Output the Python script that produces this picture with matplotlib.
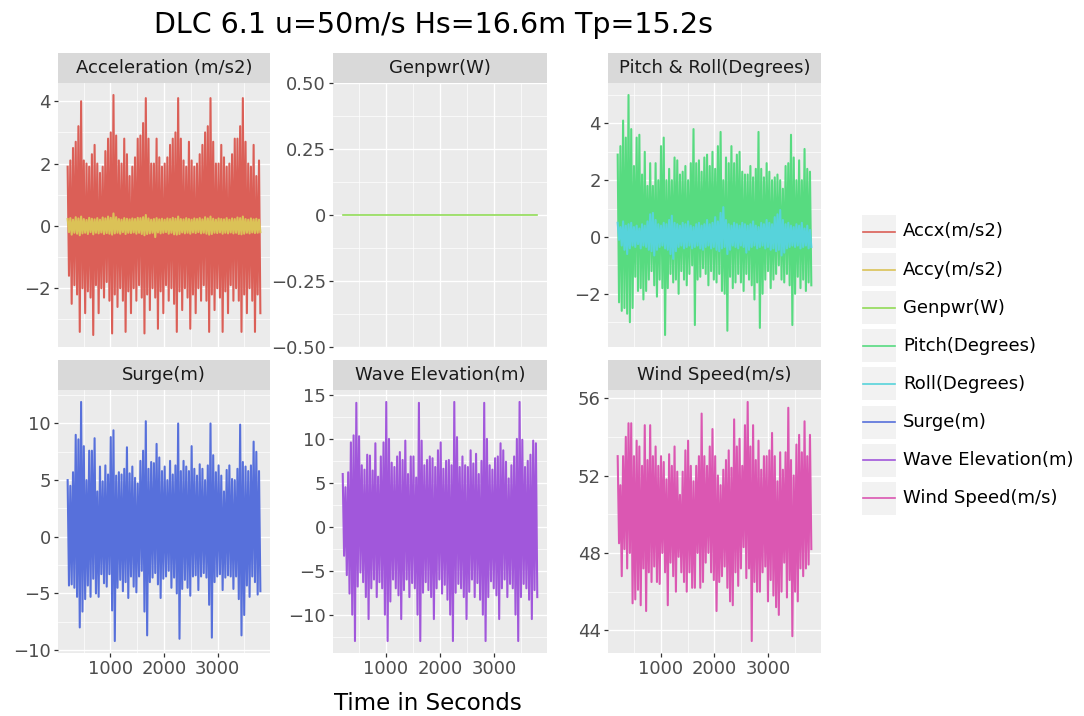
import numpy as np
import matplotlib

matplotlib.use("Agg")
import matplotlib.pyplot as plt
from matplotlib.patches import Rectangle
from matplotlib.ticker import FixedFormatter, FixedLocator

# Record runs 200 s .. 3800 s; each series is stored as the local peak and
# local trough of every 50 s window, interleaved on a 25 s grid.
t_start = 200
t_end = 3800

accx_hi = [1.9, 2.1, 2.5, 2.7, 3.2, 4.0, 2.1, 2.0, 1.9, 2.3, 2.6, 2.0,
           1.7, 1.9, 2.4, 2.8, 3.0, 4.2, 2.9, 2.1, 2.0, 2.8, 2.3, 1.6,
           1.9, 2.2, 2.8, 2.9, 3.3, 4.1, 2.8, 2.0, 2.0, 2.8, 2.2, 1.9,
           2.0, 2.2, 2.6, 2.8, 3.0, 4.1, 2.8, 2.1, 1.9, 2.7, 2.1, 1.9,
           2.0, 2.3, 2.6, 3.0, 3.2, 4.1, 2.7, 2.0, 2.0, 2.6, 2.2, 1.9,
           2.0, 2.3, 2.8, 2.8, 3.2, 4.1, 2.7, 2.0, 1.9, 2.6, 1.6, 2.1]
accx_lo = [-1.6, -2.5, -1.9, -2.2, -3.4, -2.0, -2.8, -2.1, -2.3, -3.5, -1.9, -2.8,
           -2.0, -2.3, -1.8, -2.4, -3.45, -2.2, -2.6, -2.0, -2.4, -3.4, -2.1, -2.8,
           -2.0, -2.4, -1.9, -2.3, -3.45, -2.2, -2.7, -2.0, -2.3, -3.3, -2.1, -2.8,
           -1.9, -2.4, -2.0, -2.5, -3.4, -2.1, -2.7, -2.0, -2.3, -3.3, -2.2, -2.8,
           -2.0, -2.4, -1.9, -2.4, -3.4, -2.2, -2.7, -2.0, -2.3, -3.4, -2.1, -2.8,
           -1.9, -2.4, -2.0, -2.4, -3.4, -2.2, -2.8, -2.0, -2.4, -3.4, -2.2, -2.8]

accy_hi = [0.22, 0.25, 0.20, 0.28, 0.24, 0.30, 0.22, 0.19, 0.26, 0.23, 0.21, 0.25,
           0.20, 0.27, 0.24, 0.30, 0.26, 0.40, 0.28, 0.22, 0.20, 0.25, 0.23, 0.21,
           0.24, 0.22, 0.26, 0.25, 0.28, 0.35, 0.24, 0.20, 0.22, 0.25, 0.21, 0.23,
           0.20, 0.24, 0.22, 0.26, 0.23, 0.30, 0.22, 0.21, 0.25, 0.22, 0.20, 0.24,
           0.22, 0.25, 0.21, 0.28, 0.24, 0.30, 0.23, 0.20, 0.24, 0.22, 0.21, 0.25,
           0.20, 0.24, 0.22, 0.27, 0.25, 0.30, 0.22, 0.20, 0.24, 0.21, 0.23, 0.20]
accy_lo = [-0.20, -0.28, -0.22, -0.25, -0.30, -0.24, -0.22, -0.26, -0.20, -0.27, -0.22, -0.24,
           -0.21, -0.26, -0.23, -0.25, -0.28, -0.24, -0.22, -0.25, -0.20, -0.26, -0.22, -0.23,
           -0.21, -0.25, -0.22, -0.26, -0.30, -0.26, -0.24, -0.22, -0.36, -0.21, -0.24, -0.22,
           -0.20, -0.25, -0.22, -0.27, -0.28, -0.26, -0.21, -0.24, -0.22, -0.25, -0.21, -0.23,
           -0.20, -0.24, -0.22, -0.25, -0.28, -0.26, -0.22, -0.23, -0.21, -0.25, -0.22, -0.24,
           -0.21, -0.24, -0.22, -0.26, -0.27, -0.25, -0.22, -0.24, -0.21, -0.23, -0.22, -0.20]

genpwr_hi = [0.0] * 72
genpwr_lo = [0.0] * 72

pitch_hi = [2.9, 3.2, 4.1, 3.5, 5.0, 3.8, 2.5, 3.5, 3.6, 2.2, 3.0, 1.8,
            2.6, 1.8, 2.6, 2.0, 3.2, 3.5, 2.0, 2.4, 2.0, 2.8, 2.7, 2.2,
            2.3, 2.5, 2.0, 2.6, 3.8, 2.6, 2.7, 2.3, 2.8, 2.9, 2.5, 3.0,
            2.4, 3.2, 3.7, 2.0, 2.8, 2.6, 3.2, 2.6, 2.9, 3.0, 2.3, 2.2,
            2.2, 2.5, 2.1, 2.4, 3.7, 2.4, 2.1, 2.6, 2.3, 2.0, 2.1, 2.2,
            2.0, 1.7, 2.5, 2.6, 3.6, 2.8, 2.0, 2.7, 2.0, 3.1, 2.4, 2.3]
pitch_lo = [-2.3, -2.6, -2.5, -2.7, -3.0, -2.5, -1.4, -1.9, -1.8, -2.2, -1.9, -1.5,
            -1.2, -1.7, -2.1, -1.5, -1.8, -3.45, -1.8, -1.3, -1.6, -1.5, -2.0, -1.2,
            -1.5, -1.7, -1.3, -1.0, -3.1, -1.5, -1.4, -1.1, -1.3, -1.7, -1.2, -1.5,
            -1.6, -1.3, -1.9, -2.0, -3.3, -1.4, -1.8, -1.6, -1.3, -1.6, -1.9, -1.3,
            -1.5, -1.7, -2.2, -1.6, -3.2, -2.0, -1.5, -1.2, -1.8, -1.5, -1.3, -1.0,
            -1.5, -1.6, -1.3, -1.7, -3.1, -2.0, -1.4, -1.8, -1.5, -1.9, -1.6, -1.7]

roll_hi = [0.50, 0.35, 0.55, 0.40, 0.45, 0.50, 0.35, 0.40, 0.30, 0.45, 0.40, 0.55,
           0.80, 0.85, 0.60, 0.45, 0.40, 0.50, 0.45, 0.60, 0.75, 0.50, 0.45, 0.40,
           0.50, 0.45, 0.55, 0.40, 0.35, 0.45, 0.50, 0.40, 0.45, 0.60, 0.45, 0.50,
           0.70, 0.55, 0.85, 1.05, 0.60, 0.45, 0.40, 0.50, 0.45, 0.40, 0.50, 0.45,
           0.40, 0.45, 0.55, 0.40, 0.35, 0.50, 0.45, 0.60, 0.50, 0.45, 0.70, 0.80,
           0.95, 0.60, 0.45, 0.50, 0.40, 0.35, 0.45, 0.40, 0.50, 0.30, 0.40, 0.25]
roll_lo = [-0.10, -0.30, -0.45, -0.60, -0.40, -0.30, -0.35, -0.25, -0.40, -0.30, -0.35, -0.45,
           -0.50, -0.65, -0.45, -0.35, -0.30, -0.40, -0.45, -0.60, -0.77, -0.50, -0.35, -0.30,
           -0.40, -0.35, -0.30, -0.40, -0.35, -0.30, -0.40, -0.45, -0.35, -0.30, -0.40, -0.35,
           -0.45, -0.50, -0.40, -0.35, -0.60, -0.45, -0.30, -0.35, -0.40, -0.30, -0.35, -0.55,
           -0.45, -0.35, -0.30, -0.40, -0.35, -0.30, -0.40, -0.35, -0.45, -0.40, -0.50, -0.45,
           -0.65, -0.55, -0.40, -0.35, -0.30, -0.35, -0.30, -0.40, -0.35, -0.30, -0.40, -0.35]

surge_hi = [5.0, 4.5, 5.7, 9.0, 8.6, 11.9, 8.0, 5.0, 7.6, 7.6, 8.7, 4.0,
            6.2, 4.9, 6.3, 5.5, 8.8, 9.4, 5.4, 5.7, 5.5, 6.0, 7.9, 5.6,
            6.2, 5.2, 4.7, 6.7, 7.6, 10.2, 6.0, 6.6, 6.5, 8.2, 7.0, 5.8,
            6.2, 5.0, 6.7, 5.5, 6.3, 10.0, 5.8, 6.7, 6.2, 5.8, 8.0, 6.0,
            5.4, 6.4, 6.0, 5.0, 6.3, 10.0, 7.2, 5.7, 6.3, 5.4, 4.0, 5.9,
            6.3, 5.1, 5.0, 6.0, 9.9, 6.6, 6.2, 5.8, 6.3, 8.4, 7.5, 5.8]
surge_lo = [-4.3, -4.2, -4.5, -5.3, -8.0, -6.6, -5.5, -4.3, -5.3, -3.7, -5.0, -5.3,
            -3.3, -4.1, -4.4, -3.3, -6.5, -9.2, -4.5, -3.8, -4.8, -4.0, -5.4, -3.5,
            -4.4, -4.9, -3.5, -3.0, -6.6, -8.7, -4.0, -3.6, -3.2, -4.2, -5.4, -3.7,
            -3.5, -3.0, -4.5, -3.6, -5.0, -9.0, -4.6, -3.8, -4.5, -5.2, -3.5, -3.4,
            -4.7, -3.5, -3.2, -3.6, -6.0, -8.9, -4.0, -3.5, -3.3, -4.7, -3.6, -3.4,
            -3.5, -4.6, -3.5, -5.5, -8.7, -6.9, -4.3, -5.3, -3.5, -4.0, -5.1, -4.8]

wave_hi = [6.0, 4.5, 6.2, 9.6, 10.4, 14.1, 10.3, 7.0, 6.5, 8.2, 8.1, 6.4,
           9.5, 5.7, 8.0, 9.6, 14.2, 10.0, 7.3, 6.8, 8.0, 8.5, 7.6, 9.8,
           6.0, 8.0, 8.0, 5.6, 14.1, 9.8, 7.0, 7.6, 8.0, 7.8, 6.8, 8.7,
           9.6, 6.6, 7.5, 7.6, 7.0, 14.2, 10.2, 6.8, 8.0, 7.0, 6.8, 8.7,
           7.2, 8.3, 6.0, 7.5, 14.1, 10.0, 7.0, 6.5, 7.8, 8.0, 9.5, 8.7,
           7.4, 5.5, 7.0, 8.0, 10.0, 14.2, 9.9, 6.8, 7.5, 8.2, 9.8, 9.5]
wave_lo = [-3.3, -5.5, -7.6, -10.0, -13.0, -6.8, -5.2, -6.3, -8.0, -10.5, -7.0, -6.0,
           -8.0, -6.3, -7.0, -10.0, -13.0, -8.5, -6.0, -7.0, -7.8, -10.5, -7.2, -6.0,
           -8.0, -6.4, -7.0, -10.0, -13.0, -7.5, -6.3, -7.2, -8.0, -10.5, -7.0, -6.0,
           -7.6, -6.6, -8.3, -10.0, -13.0, -7.5, -6.5, -7.0, -8.0, -10.5, -7.4, -6.0,
           -8.0, -6.4, -8.3, -10.0, -13.0, -8.0, -6.2, -7.0, -7.8, -10.5, -7.0, -6.0,
           -8.0, -6.5, -7.0, -10.0, -13.0, -8.0, -6.5, -7.0, -8.3, -10.5, -7.2, -8.0]

wind_hi = [53.0, 51.5, 53.0, 54.0, 54.7, 54.7, 53.0, 53.8, 53.5, 52.5, 54.6, 52.8,
           54.6, 53.0, 53.5, 52.5, 53.0, 52.7, 51.8, 53.1, 52.5, 53.5, 52.2, 51.0,
           52.2, 53.3, 53.8, 52.5, 51.7, 52.5, 53.0, 55.2, 53.0, 52.5, 53.5, 54.4,
           53.0, 52.0, 51.5, 52.3, 52.8, 53.3, 52.4, 54.9, 53.5, 53.9, 52.5, 54.6,
           55.8, 53.5, 54.6, 52.8, 53.8, 52.3, 53.0, 53.0, 53.3, 54.2, 53.0, 51.7,
           53.2, 52.3, 53.2, 55.5, 52.8, 52.0, 53.6, 54.1, 53.2, 54.8, 53.0, 54.1]
wind_lo = [48.5, 46.8, 48.2, 47.2, 48.0, 45.4, 45.6, 46.1, 45.3, 47.2, 45.0, 47.0,
           46.5, 47.3, 46.5, 46.4, 48.0, 47.0, 45.3, 47.5, 46.8, 46.0, 47.8, 47.0,
           46.5, 46.0, 47.0, 46.2, 46.2, 48.0, 46.2, 46.5, 47.5, 48.0, 47.0, 46.6,
           45.0, 46.5, 46.8, 47.3, 46.2, 45.5, 45.3, 47.0, 46.3, 47.2, 48.3, 46.7,
           47.2, 43.45, 46.5, 46.0, 46.0, 47.0, 47.3, 45.5, 46.6, 45.8, 45.2, 44.8,
           46.0, 47.5, 45.7, 46.6, 43.7, 46.0, 45.5, 47.2, 46.8, 47.2, 47.4, 48.2]

series_names = ["Accx(m/s2)", "Accy(m/s2)", "Genpwr(W)", "Pitch(Degrees)",
                "Roll(Degrees)", "Surge(m)", "Wave Elevation(m)", "Wind Speed(m/s)"]
series_colors = ["#db5f57", "#dbc257", "#91db57", "#57db80",
                 "#57d3db", "#5770db", "#a157db", "#db57b2"]

facet_titles = ["Acceleration (m/s2)", "Genpwr(W)", "Pitch & Roll(Degrees)",
                "Surge(m)", "Wave Elevation(m)", "Wind Speed(m/s)"]
facet_members = [
    [("Accx(m/s2)", accx_hi, accx_lo), ("Accy(m/s2)", accy_hi, accy_lo)],
    [("Genpwr(W)", genpwr_hi, genpwr_lo)],
    [("Pitch(Degrees)", pitch_hi, pitch_lo), ("Roll(Degrees)", roll_hi, roll_lo)],
    [("Surge(m)", surge_hi, surge_lo)],
    [("Wave Elevation(m)", wave_hi, wave_lo)],
    [("Wind Speed(m/s)", wind_hi, wind_lo)],
]
facet_yticks = [
    [-2, 0, 2, 4],
    [-0.5, -0.25, 0, 0.25, 0.5],
    [-2, 0, 2, 4],
    [-10, -5, 0, 5, 10],
    [-10, -5, 0, 5, 10, 15],
    [44, 48, 52, 56],
]
x_ticks = [1000, 2000, 3000]

W, H = 1084, 716
PANEL_BG = "#EBEBEB"
STRIP_BG = "#D9D9D9"
LW = 1.2        # flat traces and legend keys
LW_DENSE = 1.5  # fast-oscillating traces, drawn as a solid band


def interleave(hi, lo):
    out = np.empty(len(hi) + len(lo))
    out[0::2] = hi
    out[1::2] = lo
    return out


def expanded(lo, hi, frac=0.05):
    if hi == lo:
        return lo - 0.5, hi + 0.5
    pad = (hi - lo) * frac
    return lo - pad, hi + pad


def minor_breaks(major, lim):
    step = major[1] - major[0]
    ext = [major[0] - step] + list(major) + [major[-1] + step]
    mids = [(a + b) / 2 for a, b in zip(ext[:-1], ext[1:])]
    return [m for m in mids if lim[0] <= m <= lim[1]]


def fmt_tick(v):
    if v == 0:
        return "0"
    if float(v).is_integer():
        return f"{int(v)}".replace("-", "\u2212")
    return f"{v:.2f}".replace("-", "\u2212")


fig = plt.figure(figsize=(W / 100, H / 100), dpi=100)

col_x = [(58, 212), (333, 214), (608, 213)]
row_y = [(53, 83, 347), (360, 390, 653)]

n_pts = 2 * len(accx_hi)
time = np.linspace(t_start, t_end, n_pts)
xlim = expanded(t_start, t_end)

for i, title in enumerate(facet_titles):
    r, c = divmod(i, 3)
    x0, w = col_x[c]
    s0, p0, p1 = row_y[r]

    ax = fig.add_axes([x0 / W, 1 - p1 / H, w / W, (p1 - p0) / H])
    ax.set_facecolor(PANEL_BG)
    for sp in ax.spines.values():
        sp.set_visible(False)

    values = []
    for name, hi, lo in facet_members[i]:
        y = interleave(hi, lo)
        values.append(y)
        lw = LW if np.ptp(y) == 0 else LW_DENSE
        ax.plot(time, y, color=series_colors[series_names.index(name)],
                lw=lw, zorder=3)
    all_y = np.concatenate(values)
    ylim = expanded(all_y.min(), all_y.max())
    ax.set_xlim(*xlim)
    ax.set_ylim(*ylim)

    yt = facet_yticks[i]
    ax.yaxis.set_major_locator(FixedLocator(yt))
    ax.yaxis.set_major_formatter(FixedFormatter([fmt_tick(v) for v in yt]))
    ax.yaxis.set_minor_locator(FixedLocator(minor_breaks(yt, ylim)))
    ax.xaxis.set_major_locator(FixedLocator(x_ticks))
    ax.xaxis.set_minor_locator(FixedLocator(minor_breaks(x_ticks, xlim)))

    ax.grid(which="major", color="white", lw=0.95, zorder=1)
    ax.grid(which="minor", color="white", lw=0.5, zorder=1)
    ax.set_axisbelow(True)
    ax.tick_params(which="major", length=3.2, width=0.9, color="#333333",
                   labelcolor="#4D4D4D", labelsize=13, pad=2)
    ax.tick_params(which="minor", length=0)
    if r == 0:
        ax.tick_params(axis="x", which="major", length=0, labelbottom=False)

    sax = fig.add_axes([x0 / W, 1 - p0 / H, w / W, (p0 - s0) / H])
    sax.set_facecolor(STRIP_BG)
    sax.set_xticks([])
    sax.set_yticks([])
    for sp in sax.spines.values():
        sp.set_visible(False)
    sax.text(0.5, 0.5, title, ha="center", va="center", fontsize=13,
             color="#1A1A1A", transform=sax.transAxes)

fig.text(434 / W, 1 - 25 / H, "DLC 6.1 u=50m/s Hs=16.6m Tp=15.2s",
         ha="center", va="center", fontsize=20.5, color="black")
fig.text(428 / W, 1 - 703 / H, "Time in Seconds", ha="center", va="center",
         fontsize=16.5, color="black")

# legend drawn in pixel space on an overlay
lax = fig.add_axes([0, 0, 1, 1])
lax.set_xlim(0, W)
lax.set_ylim(H, 0)
lax.axis("off")
key_x0, key_w, key_h = 862, 34, 33
for j, (name, color) in enumerate(zip(series_names, series_colors)):
    cy = 231.5 + 38.1 * j
    lax.add_patch(Rectangle((key_x0, cy - key_h / 2), key_w, key_h,
                            facecolor="#F2F2F2", edgecolor="none"))
    lax.plot([key_x0 + 1, key_x0 + key_w - 1], [cy, cy], color=color, lw=LW)
    lax.text(903, cy, name, ha="left", va="center", fontsize=13, color="black")

fig.savefig("out.png", dpi=100)
